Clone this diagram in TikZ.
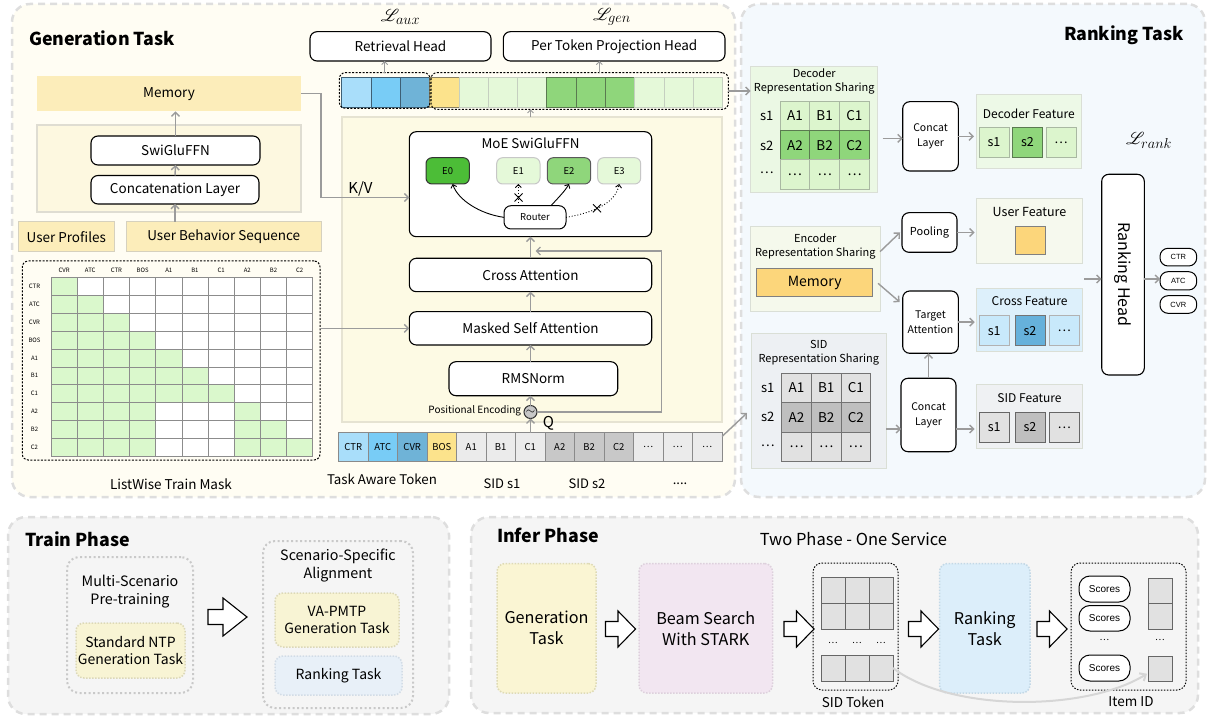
\documentclass[tikz,border=0pt]{standalone}
\usepackage{fontspec}
\setmainfont{Noto Sans CJK SC}
\newfontfamily\arialf{Liberation Sans}
\usepackage{mathrsfs}
\usetikzlibrary{arrows.meta,calc}
\newcommand\fsz[2]{\fontsize{#1}{#2}\selectfont}
\newcommand\bx[7]{\node[#1,inner sep=0pt,minimum width={(#5)-(#3)},minimum height={(#6)-(#4)}] (#2) at ({((#3)+(#5))/2},{((#4)+(#6))/2}) {#7};}
\definecolor{genbg}{HTML}{FFFDF3}
\definecolor{rankbg}{HTML}{F4F9FD}
\definecolor{phasebg}{HTML}{F5F5F5}
\definecolor{paneld}{HTML}{DEDEDE}
\definecolor{memy}{HTML}{FCEDBA}
\definecolor{encbg}{HTML}{FDF8E0}
\definecolor{encbd}{HTML}{DFDDD2}
\definecolor{udraw}{HTML}{D6D1BE}
\definecolor{decbg}{HTML}{FDFAE4}
\definecolor{decbd}{HTML}{E6E3D2}
\definecolor{agray}{HTML}{9B9B9B}
\definecolor{tb1}{HTML}{A9DEFA}
\definecolor{tb2}{HTML}{78CCF6}
\definecolor{tb3}{HTML}{6FB3D7}
\definecolor{tyel}{HTML}{FCE38C}
\definecolor{tg1}{HTML}{EBEBEB}
\definecolor{tg2}{HTML}{C8C8C8}
\definecolor{tokd}{HTML}{8A8A8A}
\definecolor{lg}{HTML}{E5F9D9}
\definecolor{mg}{HTML}{8FD67B}
\definecolor{e0g}{HTML}{4CBD37}
\definecolor{maskg}{HTML}{DAF8CC}
\definecolor{maskline}{HTML}{8C8C8C}
\definecolor{obd}{HTML}{3D5F75}
\definecolor{oyd}{HTML}{8A8060}
\definecolor{lgd}{HTML}{C5CFC0}
\definecolor{mgd}{HTML}{5A7A50}
\definecolor{decrepbg}{HTML}{EBF8E4}
\definecolor{dgl}{HTML}{DCF5CD}
\definecolor{dglb}{HTML}{A9B8A2}
\definecolor{encrepbg}{HTML}{F5F9EC}
\definecolor{memo}{HTML}{FCD67B}
\definecolor{crossbg}{HTML}{DDF0FB}
\definecolor{cb1}{HTML}{C8E9FB}
\definecolor{cb2}{HTML}{66B1DB}
\definecolor{sidrepbg}{HTML}{EDF0F3}
\definecolor{sg1}{HTML}{E1E1E1}
\definecolor{sg2}{HTML}{BFBFBF}
\definecolor{decfeatbg}{HTML}{EDF9E7}
\definecolor{userfbg}{HTML}{F6F9EE}
\definecolor{sidfbg}{HTML}{EFF1F3}
\definecolor{repbd}{HTML}{DADFD6}
\definecolor{igen}{HTML}{FAF5D3}
\definecolor{igend}{HTML}{DEDAB5}
\definecolor{ibeam}{HTML}{F2E6F1}
\definecolor{ibeamd}{HTML}{DDD0DC}
\definecolor{irank}{HTML}{DCEEFA}
\definecolor{irankd}{HTML}{C3D8E6}
\definecolor{tntp}{HTML}{F8F4D4}
\definecolor{tntpd}{HTML}{DCD8B8}
\definecolor{trank}{HTML}{E8F0F8}
\definecolor{trankd}{HTML}{D2DCE6}
\definecolor{gdotc}{HTML}{C9C9C9}
\definecolor{curveg}{HTML}{D6D6D6}
\begin{document}
\begin{tikzpicture}[x=1pt,y=-1pt,
  every node/.style={inner sep=0pt,outer sep=0pt,align=center},
  rb/.style={draw=black,line width=1.1pt,rounded corners=7pt,fill=white,font=\fsz{13.5}{15}},
  ga/.style={draw=agray,line width=1.4pt,-{Straight Barb[length=4pt,width=8pt]}},
  gas/.style={draw=agray,line width=0.9pt,-{Straight Barb[length=3pt,width=6pt]}},
  ka/.style={draw=black,line width=0.9pt,-{Straight Barb[length=3pt,width=6pt]}},
  tokst/.style={draw=tokd,line width=0.7pt,font=\fsz{9.5}{11}},
  ex/.style={rounded corners=6pt,line width=1pt,font=\fsz{9.5}{11}},
  repbox/.style={draw=repbd,line width=1pt},
  cellst/.style={line width=0.8pt,font=\fsz{13.5}{15}},
  fcell/.style={line width=1pt,font=\fsz{12.5}{14}},
  dbox/.style={draw=black,line width=1pt,dash pattern=on 2pt off 1.5pt,rounded corners=6pt},
  panel/.style={draw=paneld,line width=2.5pt,dash pattern=on 7pt off 5pt,rounded corners=18pt},
  gdot/.style={draw=gdotc,line width=2pt,dash pattern=on 2pt off 2.5pt,rounded corners=12pt},
  idot/.style={line width=1.5pt,dash pattern=on 1.5pt off 1.5pt,rounded corners=8pt,font=\fsz{14}{17}},
  kdot/.style={draw=black,line width=1pt,dash pattern=on 1.5pt off 1.5pt,rounded corners=9pt},
  title/.style={font=\bfseries\fsz{17.8}{20}},
  oval/.style={draw=black,line width=1pt,rounded corners=8pt,fill=white,font=\arialf\fsz{7.5}{8}},
  scor/.style={draw=black,line width=1pt,rounded corners=11pt,fill=white,font=\arialf\fsz{10}{11}},
  lab/.style={font=\fsz{13.5}{15}},
  hollow/.style={draw=black,line width=1.1pt,fill=white,line join=miter}
]
\useasboundingbox (0,0) rectangle (1208,719);

% ---------- panels ----------
\bx{panel,fill=genbg}{genpanel}{12}{4}{735}{497}{}
\bx{panel,fill=rankbg}{rankpanel}{741}{4}{1205}{497}{}
\bx{panel,fill=phasebg}{trainpanel}{8}{517}{449}{714}{}
\bx{panel,fill=phasebg}{inferpanel}{471}{517}{1198}{713}{}

\node[title,anchor=west] (gtitle) at (29,38) {Generation Task};
\node[title,anchor=east] (rtitle) at (1184,35) {Ranking Task};
\node[title,anchor=west] (ttitle) at (25,539) {Train Phase};
\node[title,anchor=west] (ititle) at (497,535) {Infer Phase};

% ---------- encoder ----------
\bx{lab,fill=memy}{mem}{37}{76}{301}{111.5}{Memory}
\bx{fill=encbg,draw=encbd,line width=2pt}{encbox}{37}{125}{301}{212}{}
\bx{rb}{swi}{91}{136}{260}{165}{SwiGluFFN}
\bx{rb}{cat}{91}{175.5}{259}{204}{Concatenation Layer}
\bx{lab,fill=memy,draw=udraw,line width=1pt}{uprof}{18.5}{222}{114}{251.5}{User Profiles}
\bx{lab,fill=memy,draw=udraw,line width=1pt}{ubs}{126}{222}{321.5}{251.5}{User Behavior Sequence}
\draw[ga] (cat.south |- ubs.north) -- (cat.south);
\draw[ga] (cat.north) -- (swi.south);
\draw[ga] (swi.north) -- (swi.north |- mem.south);

% ---------- mask ----------
\foreach \r in {0,...,9}{
  \foreach \c in {0,...,9}{
    \pgfmathtruncatemacro\g{and(\c<\r+1, or(\r<7, or(\c<4, \c>6)))}
    \ifnum\g=1 \def\cf{maskg}\else\def\cf{white}\fi
    \draw[draw=maskline,line width=0.6pt,fill=\cf] ({51+26.17*\c},{277.7+17.83*\r}) rectangle ++(26.17,17.83);
  }
}
\foreach \tx [count=\i from 0] in {CVR,ATC,CTR,BOS,A1,B1,C1,A2,B2,C2}{
  \node[font=\fsz{6}{7}] (mh\i) at ({51+26.17*(\i+0.5)},270) {\tx};
}
\foreach \tx [count=\i from 0] in {CTR,ATC,CVR,BOS,A1,B1,C1,A2,B2,C2}{
  \node[font=\fsz{6}{7}] (mr\i) at (34.5,{277.7+17.83*(\i+0.5)}) {\tx};
}
\bx{dbox}{maskbox}{22.3}{261}{320}{460}{}
\node[lab] (masklab) at (171,484) {ListWise Train Mask};

% ---------- decoder ----------
\bx{fill=decbg,draw=decbd,line width=2pt}{decblk}{341.7}{117.3}{721.7}{421.7}{}
\bx{rb}{moe}{409.3}{131.7}{651.7}{236.7}{}
\node[font=\fsz{13.4}{15}] (moetitle) at (530.5,143.5) {MoE SwiGluFFN};
\bx{ex,fill=e0g,draw=black!80}{e0}{426}{157.7}{469.3}{184}{E0}
\bx{ex,fill=lg,draw=black!22}{e1}{496.7}{157.7}{540}{184}{E1}
\bx{ex,fill=mg,draw=black!65}{e2}{547.3}{157.7}{590.7}{184}{E2}
\bx{ex,fill=lg,draw=black!22}{e3}{597.7}{157.7}{640.7}{184}{E3}
\bx{rb,line width=1pt,font=\fsz{9.5}{11}}{router}{504}{205.7}{566}{229}{Router}
\draw[ka] (router.west) .. controls (480,214) and (458,200) .. ($(e0.south)+(5,0)$);
\draw[ka,dotted] (e1.south |- router.north) -- (e1.south);
\draw[ka] ($(router.north)+(16,0)$) .. controls (558,198) and (565,191) .. (e2.south);
\draw[ka,dotted] (router.east) .. controls (598,212) and (616,201) .. (e3.south);
\draw[line width=0.9pt] (514.5,193.5) -- (522.5,201.5) (514.5,201.5) -- (522.5,193.5);
\draw[line width=0.9pt] (593,204.3) -- (601,212.3) (593,212.3) -- (601,204.3);

\bx{rb}{ca}{409.3}{258.3}{651.7}{291.7}{Cross Attention}
\bx{rb}{msa}{409.3}{311.7}{651.7}{345}{Masked Self Attention}
\bx{rb}{rms}{449}{361.7}{617.7}{395.7}{RMSNorm}
\node[circle,draw=black!80,fill=black!22,line width=1pt,minimum size=13pt,font=\fsz{12}{12}] (pe) at (530.5,412) {$\sim$};
\node[anchor=east,font=\fsz{10}{11}] (pelab) at (521,410.5) {Positional Encoding};
\node[font=\fsz{15}{17}] (qlab) at (548.5,423) {Q};

% tokens
\foreach \tx/\cl [count=\i from 0] in {CTR/tb1,ATC/tb2,CVR/tb3,BOS/tyel,A1/tg1,B1/tg1,C1/tg1,A2/tg2,B2/tg2,C2/tg2,\ldots/tg1,\ldots/tg1,\ldots/tg1}{
  \bx{tokst,fill=\cl}{tok\i}{338.5+29.5*\i}{432.5}{338.5+29.5*\i+29.5}{461.5}{\tx}
}
\node[font=\fsz{13.3}{15},anchor=west] (tatlab) at (327,479.5) {Task Aware Token};
\node[font=\fsz{13}{15}] (s1lab) at (502,484) {SID s1};
\node[font=\fsz{13}{15}] (s2lab) at (587,484) {SID s2};
\node[font=\fsz{13}{15}] (dotlab) at (680,484) {....};

\draw[ga] (tok6.north -| pe) -- (pe.south);
\draw[ga] (pe.north) -- (pe.north |- rms.south);
\draw[ga] (rms.north -| pe) -- (msa.south -| pe);
\draw[ga] (msa.north -| pe) -- (ca.south -| pe);
\draw[ga] (ca.north -| pe) -- (moe.south -| pe);
\coordinate (resend) at (535.5,251);
\draw[ga] (pe.east) -| (661.7,251) -- (resend);
\coordinate (kv) at (400,197.5);
\draw[ga] (mem.east) -| (321,197.5) -- (moe.west |- kv);
\node[font=\fsz{15}{17}] (kvlab) at (360.5,188.5) {K/V};
\draw[ga] (maskbox.east |- msa.west) -- (msa.west);

% ---------- output row and heads ----------
\bx{rb}{retr}{310}{31.7}{491}{61}{Retrieval Head}
\bx{rb}{ptp}{503.3}{31.7}{725}{61}{Per Token Projection Head}
\node[font=\fsz{19}{21}] (laux) at (400.5,17) {$\mathscr{L}_{aux}$};
\node[font=\fsz{19}{21}] (lgen) at (612,17) {$\mathscr{L}_{gen}$};
\foreach \cl/\dr [count=\i from 0] in {tb1/obd,tb2/obd,tb3/obd,tyel/oyd,lg/lgd,lg/lgd,lg/lgd,mg/mgd,mg/mgd,mg/mgd,lg/lgd,lg/lgd,lg/lgd}{
  \bx{fill=\cl,draw=\dr,line width=0.8pt}{oc\i}{341.7+29.3*\i}{77.3}{341.7+29.3*\i+29.3}{107.3}{}
}
\bx{dbox}{obl}{339.3}{72.7}{430}{108.3}{}
\bx{dbox}{obr}{431}{72.7}{728.3}{109.3}{}
\draw[gas] (obl.north) -- (obl.north |- retr.south);
\coordinate (pa) at (599.3,72.7);
\draw[gas] (pa) -- (pa |- ptp.south);
\draw[gas] (decblk.north -| pe) -- (obr.south -| pe);

% ---------- ranking ----------
\bx{repbox,fill=decrepbg}{decrep}{750.7}{66.7}{877.7}{193}{}
\node[font=\fsz{11}{14}] (decreptitle) at (814.2,81.3) {Decoder\\Representation Sharing};
\foreach \a/\b/\c/\cl/\dr [count=\r from 0] in {A1/B1/C1/dgl/dglb,A2/B2/C2/mg/mgd,\ldots/\ldots/\ldots/dgl/dglb}{
  \bx{cellst,fill=\cl,draw=\dr}{dg\r a}{780}{101+29.43*\r}{809.77}{101+29.43*\r+29.43}{\a}
  \bx{cellst,fill=\cl,draw=\dr}{dg\r b}{809.77}{101+29.43*\r}{839.54}{101+29.43*\r+29.43}{\b}
  \bx{cellst,fill=\cl,draw=\dr}{dg\r c}{839.54}{101+29.43*\r}{869.3}{101+29.43*\r+29.43}{\c}
}
\node[font=\fsz{13}{14}] (ds1) at (766.7,116) {s1};
\node[font=\fsz{13}{14}] (ds2) at (766.7,145.5) {s2};
\node[font=\fsz{13}{14}] (ds3) at (766.7,173) {\ldots};

\bx{rb,font=\fsz{10.5}{15}}{cattop}{902.7}{101.7}{958.3}{171}{Concat\\Layer}
\bx{repbox,fill=decfeatbg}{decfeat}{976}{95}{1081.7}{168.3}{}
\node[font=\fsz{12}{13}] (decfeattitle) at (1028.8,113.5) {Decoder Feature};
\bx{fcell,fill=dgl,draw=dglb}{df1}{979}{127.3}{1009}{157.3}{s1}
\bx{fcell,fill=mg,draw=mgd}{df2}{1012.3}{127.3}{1042.7}{157.3}{s2}
\bx{fcell,fill=dgl,draw=dglb}{df3}{1046}{127.3}{1076}{157.3}{\ldots}
\node[font=\fsz{19}{21}] (lrank) at (1149,140) {$\mathscr{L}_{rank}$};

\bx{repbox,fill=encrepbg}{encrep}{750.7}{226.7}{880}{311.7}{}
\node[font=\fsz{11}{14}] (encreptitle) at (815.3,246.7) {Encoder\\Representation Sharing};
\bx{fill=memo,draw=black!50,line width=1pt,font=\fsz{14}{16}}{memr}{756.7}{269}{872.7}{296.7}{Memory}

\bx{rb,font=\fsz{11}{15}}{pool}{902}{212.7}{957}{252.3}{Pooling}
\bx{repbox,fill=userfbg}{userf}{976.7}{199}{1082.3}{263.3}{}
\node[font=\fsz{12.5}{14}] (userftitle) at (1029.5,212.3) {User Feature};
\bx{fill=memo,draw=black!50,line width=1pt}{usq}{1015.7}{226.7}{1045}{254.3}{}

\bx{rb,font=\fsz{10.5}{15}}{tgt}{902.7}{291}{958.3}{353.3}{Target\\Attention}
\bx{repbox,fill=crossbg}{crossf}{976.7}{288.3}{1082.3}{351.7}{}
\node[font=\fsz{12}{13}] (crossftitle) at (1029.5,300.7) {Cross Feature};
\bx{fcell,fill=cb1,draw=black!30}{cf1}{979}{315.7}{1009.3}{345.7}{s1}
\bx{fcell,fill=cb2,draw=black!55}{cf2}{1015}{315.7}{1045}{345.7}{s2}
\bx{fcell,fill=cb1,draw=black!30}{cf3}{1049.3}{315.7}{1079.3}{345.7}{\ldots}

\bx{repbox,fill=sidrepbg}{sidrep}{751.7}{333.3}{886}{468.3}{}
\node[font=\fsz{11}{14}] (sidreptitle) at (818.8,352.6) {SID\\Representation Sharing};
\foreach \a/\b/\c/\cl [count=\r from 0] in {A1/B1/C1/sg1,A2/B2/C2/sg2,\ldots/\ldots/\ldots/sg1}{
  \bx{cellst,fill=\cl,draw=black!55}{sg\r a}{781.7}{373.3+29.47*\r}{811.37}{373.3+29.47*\r+29.47}{\a}
  \bx{cellst,fill=\cl,draw=black!55}{sg\r b}{811.37}{373.3+29.47*\r}{841.04}{373.3+29.47*\r+29.47}{\b}
  \bx{cellst,fill=\cl,draw=black!55}{sg\r c}{841.04}{373.3+29.47*\r}{870.7}{373.3+29.47*\r+29.47}{\c}
}
\node[font=\fsz{13}{14}] (ss1) at (767.7,388.3) {s1};
\node[font=\fsz{13}{14}] (ss2) at (767.7,417.3) {s2};
\node[font=\fsz{13}{14}] (ss3) at (767.7,446) {\ldots};

\bx{rb,font=\fsz{10.5}{15}}{catbot}{901}{378.3}{956}{451.7}{Concat\\Layer}
\bx{repbox,fill=sidfbg}{sidf}{976.7}{385}{1082.3}{448.3}{}
\node[font=\fsz{12}{13}] (sidftitle) at (1029.5,397.7) {SID Feature};
\bx{fcell,fill=sg1,draw=black!60}{sf1}{979}{412.3}{1009.3}{442.3}{s1}
\bx{fcell,fill=sg2,draw=black!60}{sf2}{1015}{412.3}{1045}{442.3}{s2}
\bx{fcell,fill=sg1,draw=black!60}{sf3}{1049.3}{412.3}{1079.3}{442.3}{\ldots}

\bx{rb}{rhead}{1101.7}{174.3}{1144.3}{375}{}
\node[rotate=-90,font=\fsz{16}{18}] (rheadtext) at (rhead.center) {Ranking Head};
\bx{oval}{octr}{1160}{248.3}{1196.7}{266}{CTR}
\bx{oval}{oatc}{1160}{271.7}{1196.7}{290}{ATC}
\bx{oval}{ocvr}{1160}{295.7}{1196.7}{313.3}{CVR}

% ranking arrows
\draw[ga] (obr.east) -- (obr.east -| decrep.west);
\coordinate (sidin) at (747,413);
\draw[ga] (tok12.north east) ++(0,4) -- (sidin);
\draw[ga] ($(decrep.east |- cattop.west)+(5,2)$) -- ($(cattop.west)+(0,2)$);
\draw[ga] (cattop.east) -- ($(decfeat.west |- cattop.east)+(-2,0)$);
\draw[ga] ($(encrep.north east)+(0,25)$) -- ($(pool.west)+(-2,0)$);
\draw[ga] ($(encrep.north east)+(-2,56.6)$) -- ($(tgt.north west)+(-3,11)$);
\draw[ga] (pool.east) -- ($(userf.west |- pool.east)+(-2,0)$);
\draw[ga] (tgt.east) -- ($(crossf.west |- tgt.east)+(-2,0)$);
\coordinate (sidy) at (0,429);
\draw[ga] (sidrep.east |- sidy) -- (catbot.west |- sidy);
\draw[ga] (catbot.east |- sidy) -- ($(sidf.west |- sidy)+(-2,0)$);
\draw[ga] (catbot.north) -- (catbot.north |- tgt.south);
\coordinate (hin) at (1084,279);
\draw[ga] (hin) -- (hin -| rhead.west);
\draw[ga] (rhead.east |- hin) -- (oatc.west |- hin);

% ---------- train phase ----------
\bx{gdot}{multibox}{67}{557}{193}{693}{}
\node[font=\fsz{14.3}{18}] (multitext) at (130,592) {Multi-Scenario\\Pre-training};
\bx{idot,fill=tntp,draw=tntpd}{ntp}{76}{623}{185}{678}{Standard NTP\\Generation Task}
\bx{gdot}{scenbox}{263}{541}{413}{708}{}
\node[font=\fsz{14.3}{18}] (scentext) at (338,566) {Scenario-Specific\\Alignment};
\bx{idot,fill=tntp,draw=tntpd}{vapmtp}{275}{593}{399}{647}{VA-PMTP\\Generation Task}
\bx{idot,fill=trank,draw=trankd}{trankb}{275}{656}{402}{695}{Ranking Task}
\draw[hollow] (208,609.5) -- (223,609.5) -- (223,598) -- (247,617) -- (223,636) -- (223,624.5) -- (208,624.5) -- cycle;

% ---------- infer phase ----------
\node[font=\fsz{16.5}{18}] (twophase) at (853.5,539) {Two Phase - One Service};
\bx{idot,fill=igen,draw=igend,font=\fsz{16.2}{21}}{igenb}{497}{563.5}{596}{693}{Generation\\Task}
\bx{idot,fill=ibeam,draw=ibeamd,font=\fsz{16.2}{21}}{ibeamb}{639}{563.5}{772.5}{693}{Beam Search\\With STARK}
\bx{idot,fill=irank,draw=irankd,font=\fsz{16.2}{21}}{irankb}{939.5}{563.5}{1030}{693}{Ranking\\Task}
\bx{kdot}{sidtok}{813}{563}{898}{690}{}
\foreach \j in {0,1,2}{
  \bx{fill=sg1,draw=black!60,line width=0.9pt}{st0\j}{821+24*\j}{577}{845+24*\j}{603}{}
  \bx{fill=sg1,draw=black!60,line width=0.9pt}{st1\j}{821+24*\j}{603}{845+24*\j}{629}{}
  \bx{fill=sg1,draw=black!60,line width=0.9pt}{st2\j}{821+24*\j}{655}{845+24*\j}{681}{}
  \node[font=\fsz{9}{10}] (std\j) at ({833+24*\j},643) {\ldots};
}
\node[font=\fsz{13.5}{15}] (sidtoklab) at (853,702) {SID Token};
\bx{kdot}{itembox}{1071}{563}{1186}{690}{}
\bx{scor}{sc1}{1079}{576}{1130}{602}{Scores}
\bx{scor}{sc2}{1079}{605.5}{1130}{631}{Scores}
\bx{scor}{sc3}{1079}{655}{1130}{681}{Scores}
\node[font=\fsz{9}{10}] (scd) at (1104.5,640) {\ldots};
\bx{fill=sg1,draw=black!60,line width=0.9pt}{it1}{1148}{578}{1172}{603.5}{}
\bx{fill=sg1,draw=black!60,line width=0.9pt}{it2}{1148}{603.5}{1172}{629}{}
\bx{fill=sg1,draw=black!60,line width=0.9pt}{it3}{1148}{656}{1172}{681.5}{}
\node[font=\fsz{9}{10}] (itd) at (1160,640) {\ldots};
\node[font=\fsz{13.5}{15}] (itemlab) at (1131,702) {Item ID};
\draw[draw=curveg,line width=2pt,-{Straight Barb[length=5pt,width=9pt]}] (st22.east) .. controls (950,712) and (1085,712) .. ($(it3.west)+(-1,5)$);
\foreach \xa in {605.5,784,908.5,1037}{
  \draw[hollow] (\xa,621.5) -- ({\xa+12.5},621.5) -- ({\xa+12.5},611) -- ({\xa+30},629) -- ({\xa+12.5},647) -- ({\xa+12.5},636.5) -- (\xa,636.5) -- cycle;
}
\end{tikzpicture}
\end{document}
